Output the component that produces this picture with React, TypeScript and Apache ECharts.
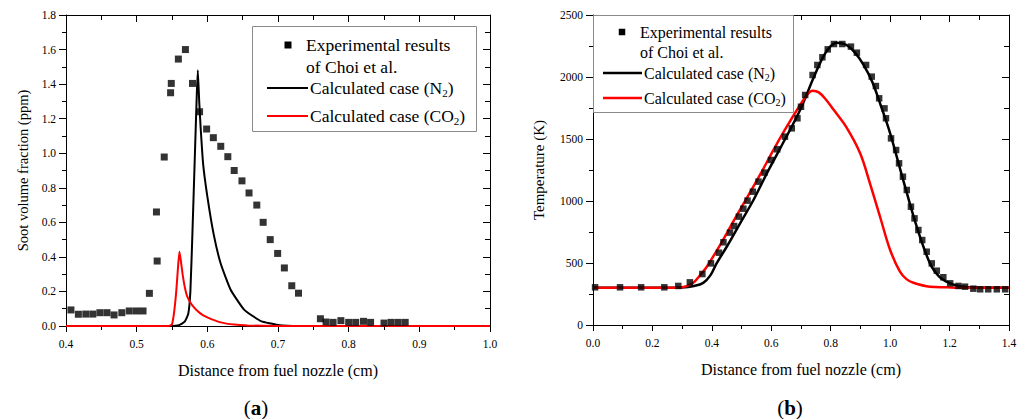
import React, { useEffect, useRef } from "react";
import * as echarts from "echarts";

const FONT = "Liberation Serif";

// ---------- (a) soot volume fraction ----------
const sootExperimental: [number, number][] = [
  [0.407, 0.093], [0.4175, 0.068], [0.428, 0.069], [0.438, 0.069], [0.448, 0.077],
  [0.458, 0.077], [0.468, 0.064], [0.479, 0.077], [0.4895, 0.087], [0.4995, 0.087],
  [0.509, 0.087], [0.518, 0.189], [0.528, 0.66], [0.529, 0.376], [0.539, 0.978],
  [0.548, 1.35], [0.549, 1.404], [0.559, 1.545], [0.569, 1.6], [0.579, 1.404],
  [0.589, 1.24], [0.599, 1.14], [0.6085, 1.09], [0.619, 1.04], [0.629, 0.98],
  [0.638, 0.9], [0.649, 0.84], [0.659, 0.77], [0.67, 0.7], [0.679, 0.6],
  [0.689, 0.5], [0.6995, 0.42], [0.709, 0.336], [0.7195, 0.233], [0.729, 0.19],
  [0.76, 0.042], [0.768, 0.023], [0.778, 0.021], [0.789, 0.031], [0.8, 0.021],
  [0.81, 0.021], [0.821, 0.027], [0.831, 0.021], [0.85, 0.017], [0.86, 0.021],
  [0.87, 0.021], [0.88, 0.021],
];
const sootN2: [number, number][] = [
  [0.4, 0], [0.55, 0], [0.56, 0.005], [0.568, 0.025], [0.573, 0.07], [0.576, 0.2],
  [0.579, 0.55], [0.582, 0.94], [0.585, 1.33], [0.5865, 1.48], [0.5885, 1.3],
  [0.5905, 1.15], [0.594, 0.94], [0.6, 0.75], [0.609, 0.53], [0.619, 0.36],
  [0.633, 0.21], [0.652, 0.095], [0.676, 0.028], [0.7, 0.006], [0.73, 0], [1.0, 0],
];
const sootCO2: [number, number][] = [
  [0.4, 0], [0.545, 0], [0.55, 0.01], [0.553, 0.08], [0.556, 0.2], [0.5585, 0.34],
  [0.5605, 0.43], [0.5625, 0.38], [0.565, 0.3], [0.568, 0.227], [0.5716, 0.17],
  [0.5787, 0.12], [0.59, 0.073], [0.6, 0.05], [0.619, 0.021], [0.638, 0.008],
  [0.657, 0.003], [0.7, 0], [1.0, 0],
];

// ---------- (b) temperature ----------
const tempExperimental: [number, number][] = [
  [0.007, 304], [0.091, 304], [0.162, 304], [0.24, 304], [0.287, 315], [0.326, 344],
  [0.368, 411], [0.397, 497], [0.424, 583], [0.439, 667], [0.461, 745], [0.475, 798],
  [0.491, 874], [0.506, 938], [0.52, 1003], [0.538, 1075], [0.557, 1156], [0.577, 1229],
  [0.599, 1331], [0.62, 1417], [0.646, 1519], [0.669, 1586], [0.688, 1667], [0.70, 1760],
  [0.714, 1855], [0.739, 2016], [0.755, 2097], [0.772, 2159], [0.79, 2223], [0.811, 2266],
  [0.839, 2266], [0.868, 2245], [0.888, 2196], [0.919, 2097], [0.938, 2003], [0.952, 1927],
  [0.963, 1828], [0.981, 1747], [0.986, 1667], [1.003, 1505], [1.02, 1411], [1.03, 1304],
  [1.043, 1196], [1.056, 1089], [1.07, 954], [1.082, 860], [1.095, 766], [1.108, 685],
  [1.123, 591], [1.14, 497], [1.157, 438], [1.179, 385], [1.202, 336], [1.23, 315],
  [1.252, 309], [1.28, 293], [1.303, 288], [1.33, 288], [1.359, 288], [1.387, 288],
];
const tempN2: [number, number][] = [
  [0, 300], [0.25, 300], [0.3, 302], [0.34, 315], [0.371, 340], [0.395, 400],
  [0.416, 497], [0.45, 631], [0.495, 820], [0.54, 1008], [0.585, 1223], [0.629, 1420],
  [0.697, 1734], [0.7415, 1990], [0.775, 2164], [0.798, 2245], [0.82, 2277],
  [0.85, 2262], [0.88, 2200], [0.91, 2100], [0.94, 1960], [0.97, 1760], [1.0, 1546],
  [1.044, 1169], [1.0895, 793], [1.134, 497], [1.165, 390], [1.19, 349], [1.22, 320],
  [1.245, 309], [1.3, 301], [1.4, 300],
];
const tempCO2: [number, number][] = [
  [0, 300], [0.25, 300], [0.3, 305], [0.3375, 341], [0.36, 400], [0.383, 470],
  [0.4275, 645], [0.472, 833], [0.517, 1022], [0.562, 1210], [0.607, 1411],
  [0.652, 1599], [0.697, 1774], [0.72, 1855], [0.739, 1890], [0.76, 1876], [0.785, 1815],
  [0.81, 1735], [0.854, 1590], [0.899, 1385], [0.932, 1143], [0.966, 873], [1.0, 605],
  [1.033, 430], [1.055, 370], [1.078, 341], [1.134, 309], [1.19, 304], [1.25, 300],
  [1.4, 300],
];

const seriesNames = ["Experimental results of Choi et al.", "Calculated case (N2)", "Calculated case (CO2)"];
const legendLine1 = "Experimental results";
const legendLine2 = "of Choi et al.";

function mainAxisX(min: number, max: number, interval: number, gridIndex: number) {
  return {
    type: "value", gridIndex, min, max, interval, position: "bottom",
    name: "Distance from fuel nozzle (cm)", nameLocation: "middle", nameGap: 36,
    nameTextStyle: { fontFamily: FONT, fontSize: 16, color: "#000" },
    axisLine: { show: true, onZero: false, lineStyle: { color: "#000", width: 1 } },
    axisTick: { show: true, inside: false, length: 6, lineStyle: { color: "#000", width: 1 } },
    minorTick: { show: true, splitNumber: 2, length: 4, lineStyle: { color: "#000", width: 1 } },
    axisLabel: { fontFamily: FONT, fontSize: 11.5, color: "#000", margin: 12, formatter: (v: number) => v.toFixed(1) },
    splitLine: { show: false },
  };
}
function mirrorAxis(type: "x" | "y", min: number, max: number, interval: number, gridIndex: number) {
  return {
    type: "value", gridIndex, min, max, interval, position: type === "x" ? "top" : "right",
    axisLine: { show: true, onZero: false, lineStyle: { color: "#000", width: 1 } },
    axisTick: { show: true, inside: true, length: 7, lineStyle: { color: "#000", width: 1 } },
    minorTick: { show: true, splitNumber: 2, length: 5, lineStyle: { color: "#000", width: 1 } },
    axisLabel: { show: false },
    splitLine: { show: false },
  };
}
function mainAxisY(min: number, max: number, interval: number, gridIndex: number, name: string, nameGap: number, nameSize: number, digits: number) {
  return {
    type: "value", gridIndex, min, max, interval, position: "left",
    name, nameLocation: "middle", nameGap,
    nameTextStyle: { fontFamily: FONT, fontSize: nameSize, color: "#000" },
    axisLine: { show: true, onZero: false, lineStyle: { color: "#000", width: 1 } },
    axisTick: { show: true, inside: false, length: 7, lineStyle: { color: "#000", width: 1 } },
    minorTick: { show: true, splitNumber: 2, length: 4, lineStyle: { color: "#000", width: 1 } },
    axisLabel: { fontFamily: FONT, fontSize: 11.5, color: "#000", margin: 10, formatter: (v: number) => v.toFixed(digits) },
    splitLine: { show: false },
  };
}

function legendGraphic(o: {
  left: number; top: number; width: number; height: number; fs: number; sub: number;
  symX: number; symSize: number; textX: number; calcX: number; y1: number; y2: number; y3: number; y4: number;
  lx1: number; lx2: number; lw: number;
}) {
  const rich = {
    t: { fontSize: o.fs, fontFamily: FONT, fill: "#000", lineHeight: o.fs + 3 },
    s: { fontSize: o.sub, fontFamily: FONT, fill: "#000", verticalAlign: "bottom" },
  };
  const txt = (x: number, y: number, text: string) => ({
    type: "text", z: 101,
    style: { x, y, text, rich, fontSize: o.fs, fontFamily: FONT, fill: "#000", align: "left", verticalAlign: "middle" },
  });
  return {
    type: "group", z: 100,
    children: [
      { type: "rect", z: 100, shape: { x: o.left + 0.5, y: o.top + 0.5, width: o.width, height: o.height }, style: { fill: "#fff", stroke: "#8a8a8a", lineWidth: 1 } },
      { type: "rect", z: 101, shape: { x: o.symX - o.symSize / 2, y: o.y1 - o.symSize / 2, width: o.symSize, height: o.symSize }, style: { fill: "#000" } },
      txt(o.textX, o.y1, `{t|${legendLine1}}`),
      txt(o.textX, o.y2, `{t|${legendLine2}}`),
      { type: "line", z: 101, shape: { x1: o.lx1, y1: o.y3, x2: o.lx2, y2: o.y3 }, style: { stroke: "#000", lineWidth: o.lw } },
      txt(o.calcX, o.y3, "{t|Calculated case (N}{s|2}{t|)}"),
      { type: "line", z: 101, shape: { x1: o.lx1, y1: o.y4, x2: o.lx2, y2: o.y4 }, style: { stroke: "#ff0000", lineWidth: o.lw } },
      txt(o.calcX, o.y4, "{t|Calculated case (CO}{s|2}{t|)}"),
    ],
  };
}

function caption(letter: string, x: number, y: number) {
  return {
    type: "text", z: 100,
    style: {
      x, y, text: `{p|(}{b|${letter}}{p|)}`, align: "center", verticalAlign: "middle",
      rich: {
        p: { fontSize: 21, fontFamily: FONT, fill: "#000" },
        b: { fontSize: 21, fontFamily: FONT, fontWeight: "bold", fill: "#000" },
      },
    },
  };
}

export default function App() {
  const ref = useRef<HTMLDivElement>(null);
  useEffect(() => {
    if (!ref.current) return;
    const chart = echarts.init(ref.current, undefined, { renderer: "svg" });
    chart.setOption({
      animation: false,
      backgroundColor: "#fff",
      textStyle: { fontFamily: FONT },
      grid: [
        { left: 66, top: 15, width: 424, height: 311, containLabel: false },
        { left: 593, top: 15, width: 416, height: 310, containLabel: false },
      ],
      xAxis: [
        mainAxisX(0.4, 1.0, 0.1, 0),
        mirrorAxis("x", 0.4, 1.0, 0.1, 0),
        mainAxisX(0, 1.4, 0.2, 1),
        mirrorAxis("x", 0, 1.4, 0.2, 1),
      ],
      yAxis: [
        mainAxisY(0, 1.8, 0.2, 0, "Soot volume fraction (ppm)", 36, 14.5, 1),
        mirrorAxis("y", 0, 1.8, 0.2, 0),
        mainAxisY(0, 2500, 500, 1, "Temperature (K)", 47, 15, 0),
        mirrorAxis("y", 0, 2500, 500, 1),
      ],
      series: [
        { name: seriesNames[1], type: "line", xAxisIndex: 0, yAxisIndex: 0, data: sootN2, showSymbol: false, symbol: "none", smooth: 0.15, lineStyle: { color: "#000", width: 2 }, z: 2 },
        { name: seriesNames[2], type: "line", xAxisIndex: 0, yAxisIndex: 0, data: sootCO2, showSymbol: false, symbol: "none", smooth: 0.15, lineStyle: { color: "#ff0000", width: 2 }, z: 3 },
        { name: seriesNames[0], type: "scatter", xAxisIndex: 0, yAxisIndex: 0, data: sootExperimental, symbol: "rect", symbolSize: 7, itemStyle: { color: "#000" }, z: 4 },
        { name: seriesNames[1], type: "line", xAxisIndex: 2, yAxisIndex: 2, data: tempN2, showSymbol: false, symbol: "none", smooth: 0.35, lineStyle: { color: "#000", width: 2.5 }, z: 2 },
        { name: seriesNames[2], type: "line", xAxisIndex: 2, yAxisIndex: 2, data: tempCO2, showSymbol: false, symbol: "none", smooth: 0.35, lineStyle: { color: "#ff0000", width: 2.5 }, z: 3 },
        { name: seriesNames[0], type: "scatter", xAxisIndex: 2, yAxisIndex: 2, data: tempExperimental, symbol: "rect", symbolSize: 6.5, itemStyle: { color: "#000" }, z: 4 },
      ],
      graphic: [
        legendGraphic({ left: 252, top: 26, width: 224, height: 105, fs: 17.5, sub: 11, symX: 288, symSize: 7, textX: 306, calcX: 310, y1: 45, y2: 67, y3: 88, y4: 116, lx1: 267, lx2: 308, lw: 2 }),
        legendGraphic({ left: 593, top: 15, width: 200, height: 97, fs: 16, sub: 10, symX: 622, symSize: 6.5, textX: 640, calcX: 644, y1: 32, y2: 52, y3: 73, y4: 98, lx1: 603, lx2: 642, lw: 2.5 }),
        caption("a", 256, 408),
        caption("b", 790, 408),
      ],
    });
    return () => chart.dispose();
  }, []);
  return <div ref={ref} style={{ position: "fixed", left: 0, top: 0, width: 1027, height: 419, background: "#fff" }} />;
}
